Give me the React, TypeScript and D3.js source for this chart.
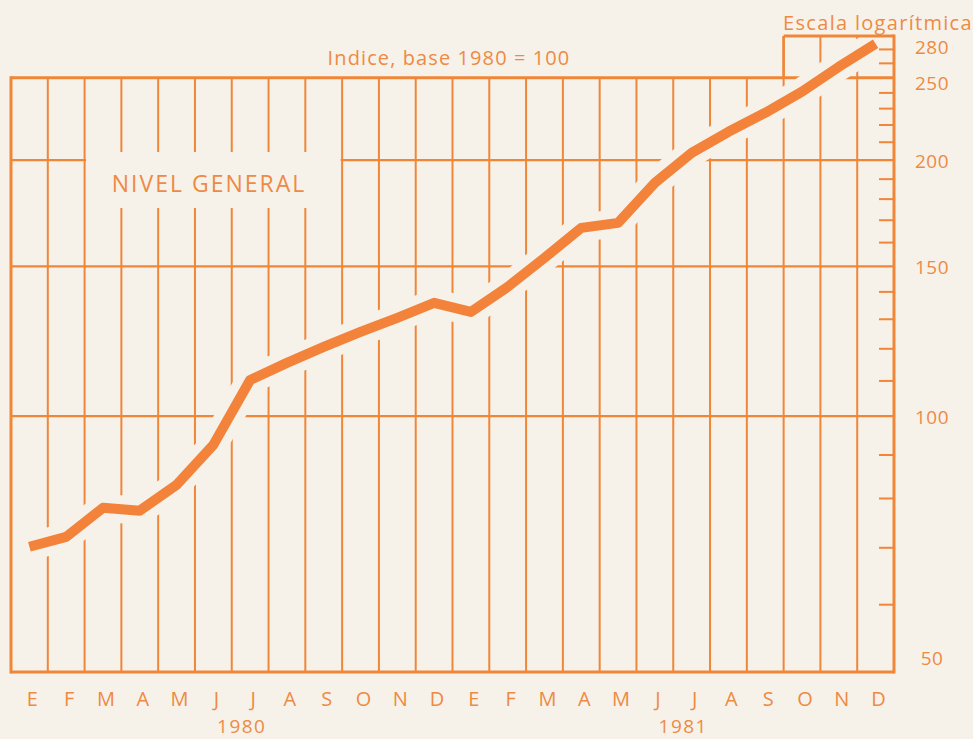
import * as d3 from 'd3';

// Indice de precios, nivel general (base 1980 = 100)
const MONTHS = ['E', 'F', 'M', 'A', 'M', 'J', 'J', 'A', 'S', 'O', 'N', 'D'];
const YEARS = ['1980', '1981'];
const INDEX_1980 = [70.2, 72.1, 78.0, 77.4, 83.0, 92.5, 110.3, 115.5, 120.6, 125.6, 130.5, 135.9];
const INDEX_1981 = [132.6, 141.9, 153.5, 166.5, 168.8, 188.1, 204.0, 216.0, 227.4, 240.8, 257.6, 274.2];
const LABELED_TICKS = [50, 100, 150, 200, 250, 280];
const GRID_VALUES = [100, 150, 200];
const MINOR_TICKS = [60, 70, 80, 90, 110, 120, 130, 140, 160, 170, 180, 190, 210, 220, 230, 240, 260, 270];

const W = 973;
const H = 739;
const BG = '#f6f2ea';
const ORANGE = '#f08638';
const LINE = '#f3823a';
const TEXT = '#ee8a43';
const FONT = '"Open Sans", "DejaVu Sans", sans-serif';

export default function App() {
  const nMonths = MONTHS.length * YEARS.length;
  const x = d3.scaleLinear().domain([0, nMonths]).range([11, 894]);
  const y = d3.scaleLog().domain([50, 280]).range([672, 36]);

  const values = [...INDEX_1980, ...INDEX_1981];
  const points: [number, number][] = values.map((v, i) => [x(i + 0.5), y(v)]);
  const line = d3.line<[number, number]>().x((d) => d[0]).y((d) => d[1]);
  const path = line(points) || '';

  const yTop = y(250);
  const yBox = y(280);
  const yBottom = y(50);
  const boxStart = nMonths - 3; // boxed area above the frame (last three months)

  // label nudges, as printed (end labels sit inside the scale)
  const labelDy = (v: number) => (v === 280 ? 18 : v === 250 ? 12 : v === 50 ? -7 : 8);

  const boundaries = d3.range(1, nMonths);

  return (
    <svg
      width={W}
      height={H}
      style={{ position: 'absolute', left: 0, top: 0, display: 'block' }}
    >
      <rect width={W} height={H} fill={BG} />

      {/* vertical month grid */}
      {boundaries.map((b) => (
        <line
          key={'v' + b}
          x1={x(b)}
          x2={x(b)}
          y1={b >= boxStart ? yBox : yTop}
          y2={yBottom}
          stroke={ORANGE}
          strokeWidth={2}
        />
      ))}

      {/* horizontal grid */}
      {GRID_VALUES.map((v) => (
        <line
          key={'h' + v}
          x1={x(0)}
          x2={x(nMonths)}
          y1={y(v)}
          y2={y(v)}
          stroke={ORANGE}
          strokeWidth={2.2}
        />
      ))}
      <line x1={x(0)} x2={x(nMonths)} y1={yTop} y2={yTop} stroke={ORANGE} strokeWidth={3} />

      {/* white halo around the curve */}
      <path d={path} fill="none" stroke={BG} strokeWidth={28} strokeLinejoin="round" />

      {/* blank panel for the series title */}
      <rect x={x(2) + 1.5} y={152} width={x(9) - x(2) - 3} height={56} fill={BG} />

      {/* frame */}
      <line x1={x(0)} x2={x(0)} y1={yTop - 1.5} y2={yBottom + 1.5} stroke={ORANGE} strokeWidth={3} />
      <line x1={x(nMonths)} x2={x(nMonths)} y1={yBox - 1.5} y2={yBottom + 1.5} stroke={ORANGE} strokeWidth={3} />
      <line x1={x(0)} x2={x(nMonths)} y1={yBottom} y2={yBottom} stroke={ORANGE} strokeWidth={3} />
      <line x1={x(boxStart)} x2={x(nMonths)} y1={yBox} y2={yBox} stroke={ORANGE} strokeWidth={3} />
      <line x1={x(boxStart)} x2={x(boxStart)} y1={yBox} y2={yTop} stroke={ORANGE} strokeWidth={2.5} />

      {/* log ticks on the right */}
      {MINOR_TICKS.map((v) => (
        <line
          key={'t' + v}
          x1={x(nMonths) - 15}
          x2={x(nMonths)}
          y1={y(v)}
          y2={y(v)}
          stroke={ORANGE}
          strokeWidth={2}
        />
      ))}

      <path d={path} fill="none" stroke={LINE} strokeWidth={10} strokeLinejoin="round" />

      {/* texts */}
      <g fill={TEXT} fontFamily={FONT} fontWeight={500}>
        <text x={449} y={65} fontSize={20} letterSpacing={1.1} textAnchor="middle">
          Indice, base 1980 = 100
        </text>
        <text x={878} y={30} fontSize={20} letterSpacing={1.3} textAnchor="middle">
          Escala logarítmica
        </text>
        <text x={209} y={192} fontSize={23} letterSpacing={2} textAnchor="middle">
          NIVEL GENERAL
        </text>
        {LABELED_TICKS.map((v) => (
          <text key={'l' + v} x={932} y={y(v) + labelDy(v)} fontSize={19} letterSpacing={0.5} textAnchor="middle">
            {v}
          </text>
        ))}
        {YEARS.map((yr, yi) =>
          MONTHS.map((m, mi) => (
            <text
              key={yr + mi}
              x={x(yi * 12 + mi + 0.5) + 3}
              y={706}
              fontSize={20}
              textAnchor="middle"
            >
              {m}
            </text>
          ))
        )}
        {YEARS.map((yr, yi) => (
          <text
            key={yr}
            x={x(yi * 12 + 6) + 10}
            y={733}
            fontSize={19}
            letterSpacing={1.5}
            textAnchor="middle"
          >
            {yr}
          </text>
        ))}
      </g>
    </svg>
  );
}
